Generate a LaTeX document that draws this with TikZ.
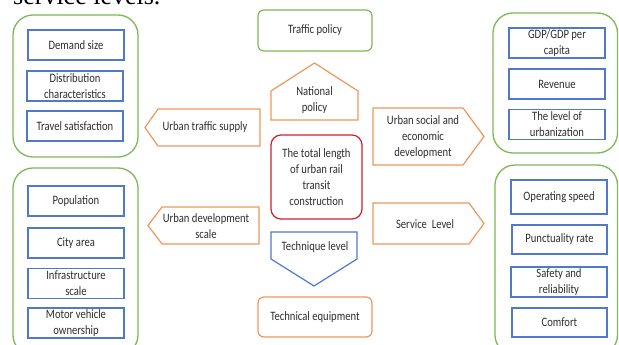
\documentclass[tikz,border=0pt]{standalone}
\usepackage{fontspec}
\setmainfont{Carlito}[FakeStretch=0.83]
\newfontfamily\titlefont{Liberation Serif}
\definecolor{grp}{RGB}{125,185,85}
\definecolor{itm}{RGB}{80,120,205}
\definecolor{fac}{RGB}{240,150,90}
\definecolor{core}{RGB}{200,35,45}
\definecolor{txt}{RGB}{45,45,45}
\tikzset{
  lbl/.style={text=txt, align=center, inner sep=0pt,
    font=\fontsize{12.8}{16}\selectfont},
  group/.style={draw=grp, line width=1.3pt, rounded corners=20pt},
  item/.style={lbl, draw=itm, line width=1.2pt},
  factor/.style={draw=fac, line width=1.2pt},
  techarrow/.style={draw=itm, line width=1.2pt},
  topbox/.style={lbl, draw=grp, line width=1.2pt, rounded corners=6pt},
  botbox/.style={lbl, draw=fac, line width=1.2pt, rounded corners=6pt},
  corebox/.style={lbl, draw=core, line width=1.2pt, rounded corners=10pt},
}
\newcommand{\itembox}[4]{% name, x-centre, y-centre, text
  \node[item, minimum width=96pt, minimum height=30pt] (#1) at (#2,#3) {#4};}
\begin{document}
\begin{tikzpicture}[x=1pt,y=-1pt]
  \path[use as bounding box] (0,0) rectangle (619,345);
  \clip (0,0) rectangle (619,345);

  % running text above the figure
  \node[anchor=base west, inner sep=0pt, font=\titlefont\fontsize{26}{30}\selectfont]
    (caption) at (13,4.5) {service levels.};

  % outer groups
  \draw[group] (13,15) rectangle (138,157);
  \draw[group] (13,168) rectangle (138,355);
  \draw[group] (493,13) rectangle (617.5,153);
  \draw[group] (495,165) rectangle (617.5,355);

  % left top group
  \itembox{demand}{76}{45}{Demand size}
  \itembox{distrib}{75}{86}{Distribution\\characteristics}
  \itembox{travel}{75}{126}{Travel satisfaction}

  % left bottom group
  \itembox{popul}{76}{201}{Population}
  \itembox{area}{76}{243}{City area}
  \itembox{infra}{76}{283.5}{Infrastructure\\scale}
  \itembox{motor}{76}{323}{Motor vehicle\\ownership}

  % right top group
  \itembox{gdp}{557}{43}{GDP/GDP per\\capita}
  \itembox{revenue}{557}{84}{Revenue}
  \itembox{urbaniz}{557}{124.5}{The level of\\urbanization}

  % right bottom group
  \node[item, minimum width=96pt, minimum height=34pt] (speed) at (559,197) {Operating speed};
  \node[item, minimum width=95pt, minimum height=29pt] (punct) at (559.5,239.5) {Punctuality rate};
  \itembox{safety}{559}{282}{Safety and\\reliability}
  \node[item, minimum width=95pt, minimum height=29pt] (comfort) at (559.5,322.5) {Comfort};

  % centre column
  \node[topbox, minimum width=114pt, minimum height=41pt] (traffic) at (315,30.5) {Traffic policy};
  \node[corebox, minimum width=91pt, minimum height=84pt] (core) at (316.5,177)
    {The total length\\of urban rail\\transit\\construction};
  \node[botbox, minimum width=114pt, minimum height=40pt] (equip) at (315,317) {Technical equipment};

  % factor arrows
  \draw[factor] (271,120) -- (271,91) -- (314.5,63) -- (358,91) -- (358,120) -- cycle;
  \node[lbl] (national) at (314.5,100) {National\\policy};

  \draw[techarrow] (271,232) -- (357,232) -- (357,259) -- (314,286) -- (271,259) -- cycle;
  \node[lbl] (technique) at (315,247) {Technique level};

  \draw[factor] (260,109) -- (260,146) -- (158,146) -- (145,127.5) -- (158,109) -- cycle;
  \node[lbl] (supply) at (205,127.5) {Urban traffic supply};

  \draw[factor] (259,207) -- (259,244) -- (162,244) -- (148,225.5) -- (162,207) -- cycle;
  \node[lbl] (scale) at (206,226) {Urban development\\scale};

  \draw[factor] (373,108) -- (463,108) -- (484,136.5) -- (463,165) -- (373,165) -- cycle;
  \node[lbl] (social) at (423,137.5) {Urban social and\\economic\\development};

  \draw[factor] (373,203) -- (469,203) -- (484,223.5) -- (469,244) -- (373,244) -- cycle;
  \node[lbl] (service) at (425,224) {Service\ \ Level};
\end{tikzpicture}
\end{document}
